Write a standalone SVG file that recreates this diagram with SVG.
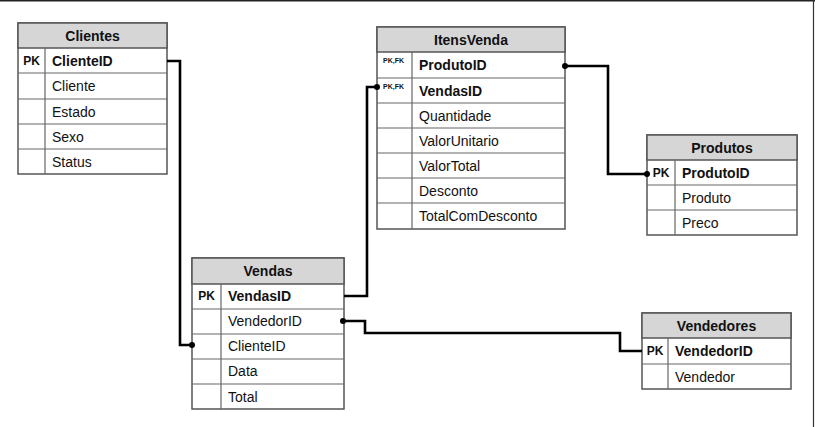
<svg xmlns="http://www.w3.org/2000/svg" width="815" height="427" viewBox="0 0 815 427">
<style>
text{font-family:"Liberation Sans",Arial,sans-serif;fill:#111;}
.hdr{fill:#d6d6d6;stroke:#555;stroke-width:1.5;}
.box{fill:#fff;stroke:#555;stroke-width:1.5;}
.ln{stroke:#666;stroke-width:1.2;}
.t{font-size:14px;font-weight:bold;text-anchor:middle;}
.f{font-size:14px;}
.b{font-weight:bold;}
.pk{font-size:12px;font-weight:bold;text-anchor:middle;}
.pf{font-size:7px;font-weight:bold;}
.c{fill:none;stroke:#000;stroke-width:2.6;}
</style>
<line x1="0" y1="0.8" x2="815" y2="0.8" stroke="#222" stroke-width="1.6"/>
<line x1="813.5" y1="0" x2="813.5" y2="427" stroke="#333" stroke-width="1.2"/>

<g id="clientes">
<rect class="box" x="18" y="23" width="149" height="151"/>
<rect class="hdr" x="18" y="23" width="149" height="25"/>
<text class="t" x="92.5" y="41">Clientes</text>
<line class="ln" x1="18" y1="73" x2="167" y2="73"/>
<line class="ln" x1="18" y1="99" x2="167" y2="99"/>
<line class="ln" x1="18" y1="124" x2="167" y2="124"/>
<line class="ln" x1="18" y1="149" x2="167" y2="149"/>
<line class="ln" x1="45" y1="48" x2="45" y2="174"/>
<text class="pk" x="31.5" y="65">PK</text>
<text class="f b" x="52" y="66">ClienteID</text>
<text class="f" x="52" y="91">Cliente</text>
<text class="f" x="52" y="117">Estado</text>
<text class="f" x="52" y="142">Sexo</text>
<text class="f" x="52" y="167">Status</text>
</g>

<g id="itensvenda">
<rect class="box" x="377" y="27" width="188" height="202"/>
<rect class="hdr" x="377" y="27" width="188" height="25"/>
<text class="t" x="471" y="45">ItensVenda</text>
<line class="ln" x1="377" y1="78" x2="565" y2="78"/>
<line class="ln" x1="377" y1="103" x2="565" y2="103"/>
<line class="ln" x1="377" y1="128" x2="565" y2="128"/>
<line class="ln" x1="377" y1="153" x2="565" y2="153"/>
<line class="ln" x1="377" y1="178" x2="565" y2="178"/>
<line class="ln" x1="377" y1="203" x2="565" y2="203"/>
<line class="ln" x1="412" y1="52" x2="412" y2="229"/>
<text class="pf" x="383" y="63">PK,FK</text>
<text class="pf" x="383" y="89">PK,FK</text>
<text class="f b" x="419" y="70">ProdutoID</text>
<text class="f b" x="419" y="96">VendasID</text>
<text class="f" x="419" y="121">Quantidade</text>
<text class="f" x="419" y="146">ValorUnitario</text>
<text class="f" x="419" y="171">ValorTotal</text>
<text class="f" x="419" y="196">Desconto</text>
<text class="f" x="419" y="221">TotalComDesconto</text>
</g>

<g id="produtos">
<rect class="box" x="647" y="135" width="150" height="100"/>
<rect class="hdr" x="647" y="135" width="150" height="25"/>
<text class="t" x="722" y="153">Produtos</text>
<line class="ln" x1="647" y1="185" x2="797" y2="185"/>
<line class="ln" x1="647" y1="210" x2="797" y2="210"/>
<line class="ln" x1="675" y1="160" x2="675" y2="235"/>
<text class="pk" x="661" y="177">PK</text>
<text class="f b" x="682" y="178">ProdutoID</text>
<text class="f" x="682" y="203">Produto</text>
<text class="f" x="682" y="228">Preco</text>
</g>

<g id="vendas">
<rect class="box" x="192" y="258" width="152" height="151"/>
<rect class="hdr" x="192" y="258" width="152" height="26"/>
<text class="t" x="268" y="276">Vendas</text>
<line class="ln" x1="192" y1="309" x2="344" y2="309"/>
<line class="ln" x1="192" y1="334" x2="344" y2="334"/>
<line class="ln" x1="192" y1="359" x2="344" y2="359"/>
<line class="ln" x1="192" y1="384" x2="344" y2="384"/>
<line class="ln" x1="221" y1="284" x2="221" y2="409"/>
<text class="pk" x="206.5" y="300">PK</text>
<text class="f b" x="228" y="301">VendasID</text>
<text class="f" x="228" y="326">VendedorID</text>
<text class="f" x="228" y="351">ClienteID</text>
<text class="f" x="228" y="376">Data</text>
<text class="f" x="228" y="402">Total</text>
</g>

<g id="vendedores">
<rect class="box" x="642" y="313" width="149" height="76"/>
<rect class="hdr" x="642" y="313" width="149" height="25"/>
<text class="t" x="716.5" y="331">Vendedores</text>
<line class="ln" x1="642" y1="364" x2="791" y2="364"/>
<line class="ln" x1="668" y1="338" x2="668" y2="389"/>
<text class="pk" x="655" y="355">PK</text>
<text class="f b" x="675" y="356">VendedorID</text>
<text class="f" x="675" y="382">Vendedor</text>
</g>

<g id="connectors">
<polyline class="c" points="167,61 180,61 180,345 192,345"/>
<circle cx="192" cy="345" r="3"/>
<polyline class="c" points="344,296 367,296 367,87 377,87"/>
<circle cx="377" cy="87" r="3"/>
<polyline class="c" points="565,66 608,66 608,174 647,174"/>
<circle cx="565" cy="66" r="3"/>
<circle cx="647" cy="174" r="3"/>
<polyline class="c" points="343,321 365,321 365,333 620,333 620,351 642,351"/>
<circle cx="343" cy="321" r="3"/>
</g>
</svg>
